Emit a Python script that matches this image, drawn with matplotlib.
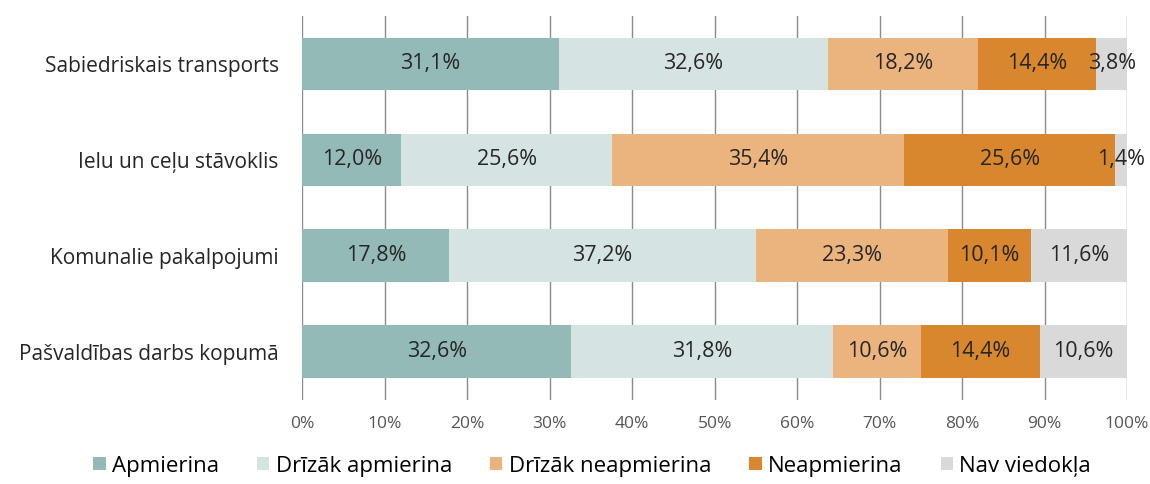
import matplotlib.pyplot as plt
import numpy as np

# Data
categories = ["Sabiedriskais transports", "Ielu un ceļu stāvoklis",
              "Komunalie pakalpojumi", "Pašvaldības darbs kopumā"]
series_names = ["Apmierina", "Drīzāk apmierina", "Drīzāk neapmierina",
                "Neapmierina", "Nav viedokļa"]
apmierina = [31.1, 12.0, 17.8, 32.6]
drizak_apmierina = [32.6, 25.6, 37.2, 31.8]
drizak_neapmierina = [18.2, 35.4, 23.3, 10.6]
neapmierina = [14.4, 25.6, 10.1, 14.4]
nav_viedokla = [3.8, 1.4, 11.6, 10.6]

colors = ["#93BAB7", "#D6E3E3", "#EBB47F", "#D9872F", "#D9D9D9"]

plt.rcParams['font.family'] = ['Open Sans', 'DejaVu Sans']

fig = plt.figure(figsize=(11.5, 4.84), dpi=100)
ax = fig.add_axes([0.263, 0.174, 0.717, 0.793])

y = np.arange(len(categories))
left = np.zeros(len(categories))
all_series = [apmierina, drizak_apmierina, drizak_neapmierina, neapmierina, nav_viedokla]

ax.set_axisbelow(True)
ax.xaxis.grid(True, color="#8c8c8c", linewidth=1)

for name, vals, col in zip(series_names, all_series, colors):
    vals = np.array(vals)
    ax.barh(y, vals, left=left, height=0.55, color=col, label=name)
    for yi, (l, v) in enumerate(zip(left, vals)):
        ax.text(l + v / 2, yi, f"{v:.1f}%".replace(".", ","),
                ha="center", va="center", fontsize=15.5, color="#262626")
    left += vals

ax.set_xlim(0, 100)
ax.set_ylim(len(categories) - 0.5, -0.5)
ax.set_yticks(y)
ax.set_yticklabels(categories, fontsize=15, color="#262626")
ax.set_xticks(np.arange(0, 101, 10))
ax.set_xticklabels([f"{t}%" for t in range(0, 101, 10)], fontsize=12.5, color="#555555")
ax.tick_params(length=0)
ax.tick_params(axis="y", pad=17)
ax.tick_params(axis="x", pad=12)
for s in ax.spines.values():
    s.set_visible(False)

fig.legend(loc="center", bbox_to_anchor=(0.515, 0.037), ncol=5, frameon=False,
           fontsize=16, handlelength=0.55, handleheight=0.55, handletextpad=0.3,
           columnspacing=1.7)

fig.savefig("out.png", dpi=100)
